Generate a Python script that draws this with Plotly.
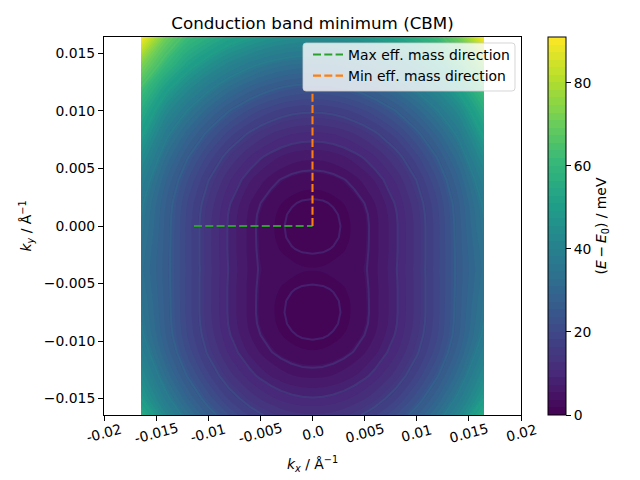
import plotly.graph_objects as go

# half-grid k_x (mirrored about 0) and k_y nodes
kx_half = [0, 0.001, 0.002, 0.003, 0.004, 0.005, 0.006, 0.008, 0.010, 0.012, 0.014, 0.01645]
ky = [0.01643, 0.014, 0.012, 0.010, 0.008, 0.006, 0.004, 0.002, 0.001, 0, -0.001, -0.002, -0.003,
      -0.00375, -0.0045, -0.0055, -0.0065, -0.0075, -0.0085, -0.0095, -0.011, -0.013, -0.015, -0.01643]
# energies (meV), one row per k_y
energy_half = [
    [44.1, 44.2, 44.6, 45.3, 46.3, 47.5, 49.0, 52.2, 56.8, 61.8, 70.5, 91.0],
    [32.1, 32.2, 32.6, 33.3, 34.3, 35.5, 37.0, 40.7, 45.6, 51.5, 60.0, 73.0],
    [23.6, 23.7, 24.1, 24.8, 25.8, 27.0, 28.5, 32.2, 37.1, 43.0, 50.5, 63.5],
    [16.4, 16.5, 16.9, 17.6, 18.6, 19.8, 21.3, 25.0, 29.9, 35.8, 43.0, 56.0],
    [10.5, 10.6, 11.0, 11.7, 12.7, 13.9, 15.4, 19.1, 24.0, 29.9, 37.0, 50.3],
    [5.9, 6.0, 6.4, 7.1, 8.1, 9.3, 10.8, 14.5, 19.4, 25.3, 32.4, 44.5],
    [2.62, 2.75, 3.16, 3.83, 4.78, 6.0, 7.47, 11.2, 16.1, 22.0, 29.0, 39.8],
    [0.66, 0.79, 1.2, 1.87, 2.82, 4.03, 5.5, 9.26, 14.2, 20.0, 27.0, 36.9],
    [0.16, 0.29, 0.7, 1.37, 2.32, 3.53, 5.0, 8.76, 13.7, 19.6, 26.6, 36.1],
    [0.0, 0.13, 0.54, 1.21, 2.16, 3.37, 4.85, 8.6, 13.5, 19.4, 26.4, 35.7],
    [0.16, 0.28, 0.67, 1.3, 2.2, 3.4, 4.85, 8.6, 13.5, 19.4, 26.3, 35.0],
    [0.66, 0.77, 1.11, 1.67, 2.47, 3.48, 4.85, 8.6, 13.5, 19.4, 26.2, 34.3],
    [1.48, 1.56, 1.83, 2.25, 2.86, 3.62, 4.95, 8.7, 13.5, 19.4, 26.1, 33.8],
    [1.9, 1.97, 2.19, 2.55, 3.06, 3.72, 5.0, 8.8, 13.6, 19.5, 26.1, 33.5],
    [1.48, 1.56, 1.83, 2.25, 2.86, 3.62, 4.95, 8.7, 13.5, 19.4, 26.1, 33.8],
    [0.66, 0.77, 1.11, 1.67, 2.47, 3.48, 4.85, 8.6, 13.5, 19.4, 26.2, 34.3],
    [0.16, 0.28, 0.67, 1.3, 2.2, 3.4, 4.85, 8.6, 13.5, 19.4, 26.3, 35.0],
    [0.0, 0.13, 0.54, 1.21, 2.16, 3.37, 4.85, 8.6, 13.5, 19.4, 26.4, 35.5],
    [0.16, 0.29, 0.7, 1.37, 2.32, 3.53, 5.0, 8.76, 13.7, 19.6, 26.6, 36.1],
    [0.66, 0.79, 1.2, 1.87, 2.82, 4.03, 5.5, 9.26, 14.2, 20.0, 27.0, 37.0],
    [2.0, 2.13, 2.54, 3.21, 4.16, 5.37, 6.85, 10.6, 15.5, 21.4, 28.6, 39.5],
    [5.0, 5.13, 5.54, 6.21, 7.16, 8.37, 9.85, 13.6, 18.6, 24.7, 32.2, 44.0],
    [9.2, 9.33, 9.74, 10.4, 11.4, 12.6, 14.1, 17.9, 23.0, 29.3, 37.2, 49.0],
    [13.0, 13.1, 13.5, 14.2, 15.2, 16.4, 17.9, 21.8, 27.0, 33.5, 41.8, 56.0],
]
line_levels = [1, 4, 9, 16, 25, 36, 49, 64]
line_colors = ["rgba(72,55,128,0.55)", "rgba(68,68,135,0.45)", "rgba(62,82,138,0.42)", "rgba(55,95,140,0.4)",
               "rgba(48,112,142,0.4)", "rgba(38,135,141,0.4)", "rgba(36,165,132,0.4)", "rgba(85,195,105,0.55)"]
max_dir_x = [-0.01137, 0]
max_dir_y = [0, 0]
min_dir_x = [0, 0]
min_dir_y = [0, 0.0118]
xticks = [-0.02, -0.015, -0.01, -0.005, 0, 0.005, 0.01, 0.015, 0.02]
xticklabels = ["-0.02", "-0.015", "-0.01", "-0.005", "0.0", "0.005", "0.01", "0.015", "0.02"]
yticks = [-0.015, -0.01, -0.005, 0, 0.005, 0.01, 0.015]
yticklabels = ["\u22120.015", "\u22120.010", "\u22120.005", "0.000", "0.005", "0.010", "0.015"]

kx = [-v for v in kx_half[:0:-1]] + kx_half
energy = [row[:0:-1] + row for row in energy_half]
FONT = "DejaVu Sans"

fig = go.Figure()
fig.add_trace(go.Contour(
    x=kx, y=ky, z=energy, colorscale="Viridis", zmin=0, zmax=91, autocontour=False, showlegend=False,
    contours=dict(coloring="fill", start=0, end=91, size=1.82, showlines=False),
    line=dict(width=0), hoverinfo="skip",
    colorbar=dict(x=(548 - 104) / 417, xanchor="left", y=0.5, yanchor="middle", len=1, lenmode="fraction",
                  thickness=18, thicknessmode="pixels", xpad=0, ypad=0, outlinecolor="black", outlinewidth=1,
                  tickvals=[0, 20, 40, 60, 80], ticks="outside", ticklen=5, tickcolor="black",
                  tickfont=dict(family=FONT, size=13.9, color="black"),
                  title=dict(text="(<i>E</i>\u2009\u2212\u2009<i>E</i><sub>0</sub>) / meV", side="right",
                             font=dict(family=FONT, size=13.9, color="black"))),
))
for lev, col in zip(line_levels, line_colors):
    fig.add_trace(go.Contour(
        x=kx, y=ky, z=energy, autocontour=False, showscale=False, hoverinfo="skip", showlegend=False,
        contours=dict(coloring="none", start=lev, end=lev, size=1),
        line=dict(color=col, width=2, smoothing=0),
    ))
fig.add_trace(go.Scatter(x=max_dir_x, y=max_dir_y, mode="lines", name="Max eff. mass direction",
                         line=dict(color="#2ca02c", width=2.08, dash="8px,3.3px")))
fig.add_trace(go.Scatter(x=min_dir_x, y=min_dir_y, mode="lines", name="Min eff. mass direction",
                         line=dict(color="#ff7f0e", width=2.08, dash="8px,3.3px")))

axis = dict(showgrid=False, zeroline=False, showline=True, linecolor="black", linewidth=1, mirror=True,
            ticks="outside", ticklen=5, tickcolor="black", tickwidth=1,
            tickfont=dict(family=FONT, size=13.9, color="black"))
# rounded legend frame, in paper fractions of the 417x378 px plot area
fx0, fx1, fy1, fy0 = (303 - 104) / 417, (515 - 104) / 417, 1 - 6 / 378, 1 - 54 / 378
rx, ry = 3 / 417, 3 / 378
frame = (f"M{fx0 + rx},{fy1} L{fx1 - rx},{fy1} Q{fx1},{fy1} {fx1},{fy1 - ry} L{fx1},{fy0 + ry} "
         f"Q{fx1},{fy0} {fx1 - rx},{fy0} L{fx0 + rx},{fy0} Q{fx0},{fy0} {fx0},{fy0 + ry} "
         f"L{fx0},{fy1 - ry} Q{fx0},{fy1} {fx0 + rx},{fy1} Z")
fig.update_layout(
    width=640, height=480, autosize=False,
    margin=dict(l=104, r=119, t=37, b=65, pad=0),
    paper_bgcolor="white", plot_bgcolor="white",
    font=dict(family=FONT, color="black"),
    title=dict(text="Conduction band minimum (CBM)", x=312.5 / 640, xanchor="center", y=1 - 23 / 480, yanchor="middle",
               font=dict(family=FONT, size=16.7, color="black")),
    xaxis=dict(axis, range=[-0.02, 0.02], tickvals=xticks, ticktext=[""] * len(xticks),
               title=dict(text="<i>k</i><sub><i>x</i></sub> / Å<sup>\u22121</sup>", standoff=36,
                          font=dict(family=FONT, size=13.9, color="black"))),
    yaxis=dict(axis, range=[-0.01643, 0.01643], tickvals=yticks, ticktext=yticklabels,
               title=dict(text="<i>k</i><sub><i>y</i></sub> / Å<sup>\u22121</sup>", standoff=8,
                          font=dict(family=FONT, size=13.9, color="black"))),
    shapes=[dict(type="path", path=frame, xref="paper", yref="paper", layer="above",
                 fillcolor="rgba(255,255,255,0.8)", line=dict(color="rgba(204,204,204,0.8)", width=1))],
    legend=dict(x=(515 - 104) / 417, xanchor="right", y=1 + 2 / 378 - 4 / 378, yanchor="top",
                bgcolor="rgba(0,0,0,0)", borderwidth=0,
                font=dict(family=FONT, size=13.9, color="black"), itemwidth=30, tracegroupgap=0),
    annotations=[dict(x=t, y=0, xref="x", yref="paper", text=lab, showarrow=False, textangle=-15,
                      xanchor="center", yanchor="middle", yshift=-18,
                      font=dict(family=FONT, size=13.9, color="black"))
                 for t, lab in zip(xticks, xticklabels)],
)
fig.write_html("out.html", post_script="document.body.style.margin='0';", config=dict(displayModeBar=False))
